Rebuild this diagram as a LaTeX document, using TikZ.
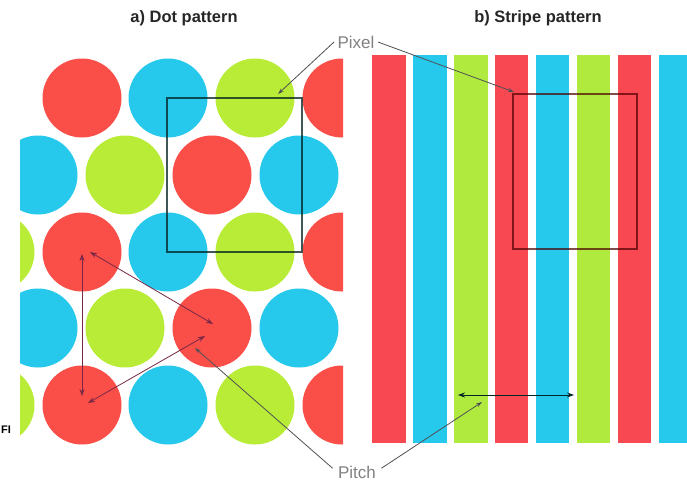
\documentclass[tikz,border=0pt]{standalone}
\usepackage{fontspec}
\setmainfont{Liberation Sans}
\usetikzlibrary{arrows.meta}
\definecolor{pred}{RGB}{250,78,72}
\definecolor{pcyan}{RGB}{38,200,236}
\definecolor{pgreen}{RGB}{184,236,54}
\definecolor{sred}{RGB}{248,72,82}
\definecolor{sgreen}{RGB}{176,234,62}
\definecolor{labgray}{RGB}{130,130,130}
\definecolor{leadgray}{RGB}{80,80,85}
\definecolor{pitchc}{RGB}{120,40,70}
\tikzset{
  dotc/.style={circle,minimum size=79pt,inner sep=0pt,draw=none},
  stripec/.style={minimum width=33.5pt,minimum height=388pt,inner sep=0pt,anchor=north west,draw=none},
  titletext/.style={font=\bfseries\fontsize{16.5}{18}\selectfont,text=black!85},
  labeltext/.style={font=\fontsize{17}{19}\selectfont,text=labgray},
  leader/.style={draw=leadgray,line width=0.8pt,-{Stealth[length=6pt,width=4pt]}},
  pitcharrow/.style={draw=pitchc,line width=0.8pt,{Stealth[length=7pt,width=5pt]}-{Stealth[length=7pt,width=5pt]}},
  pixsquare/.style={draw=black!75!teal,line width=1.1pt,opacity=0.75},
  pixsquareb/.style={draw=black!70!red,line width=1.1pt,opacity=0.7}
}
\begin{document}
\begin{tikzpicture}[x=1pt,y=-1pt]
\useasboundingbox (0,0) rectangle (687,485);
\fill[white] (0,0) rectangle (687,485);

% ---- a) dot pattern
\begin{scope}
\clip (20,0) rectangle (343,485);
% row 1
\node[dotc,fill=pred]   (r1a) at (82,98) {};
\node[dotc,fill=pcyan]  (r1b) at (168,98) {};
\node[dotc,fill=pgreen] (r1c) at (255,98) {};
\node[dotc,fill=pred]   (r1d) at (342,98) {};
% row 2
\node[dotc,fill=pcyan]  (r2a) at (38,175) {};
\node[dotc,fill=pgreen] (r2b) at (125,175) {};
\node[dotc,fill=pred]   (r2c) at (212,175) {};
\node[dotc,fill=pcyan]  (r2d) at (299,175) {};
% row 3
\node[dotc,fill=pgreen] (r3z) at (-5,252) {};
\node[dotc,fill=pred]   (r3a) at (82,252) {};
\node[dotc,fill=pcyan]  (r3b) at (168,252) {};
\node[dotc,fill=pgreen] (r3c) at (255,252) {};
\node[dotc,fill=pred]   (r3d) at (342,252) {};
% row 4
\node[dotc,fill=pcyan]  (r4a) at (38,328) {};
\node[dotc,fill=pgreen] (r4b) at (125,328) {};
\node[dotc,fill=pred]   (r4c) at (212,328) {};
\node[dotc,fill=pcyan]  (r4d) at (299,328) {};
% row 5
\node[dotc,fill=pgreen] (r5z) at (-5,405) {};
\node[dotc,fill=pred]   (r5a) at (82,405) {};
\node[dotc,fill=pcyan]  (r5b) at (168,405) {};
\node[dotc,fill=pgreen] (r5c) at (255,405) {};
\node[dotc,fill=pred]   (r5d) at (342,405) {};
\end{scope}

% pixel square (dots)
\coordinate (pxa) at (167,98);
\coordinate (pxb) at (302,252);
\draw[pixsquare] (pxa) rectangle (pxb);

% pitch triangle arrows
\coordinate (tA1) at (82,254);
\coordinate (tC1) at (82,396);
\coordinate (tA2) at (90,252);
\coordinate (tB1) at (213,324);
\coordinate (tC2) at (88,403);
\coordinate (tB2) at (205,336);
\draw[pitcharrow] (tA1) -- (tC1);
\draw[pitcharrow] (tA2) -- (tB1);
\draw[pitcharrow] (tC2) -- (tB2);

% ---- b) stripe pattern
\begin{scope}
\clip (360,0) rectangle (687,485);
\node[stripec,fill=sred]   (s1) at (372,55) {};
\node[stripec,fill=pcyan]  (s2) at (412.9,55) {};
\node[stripec,fill=sgreen] (s3) at (453.8,55) {};
\node[stripec,fill=sred]   (s4) at (494.7,55) {};
\node[stripec,fill=pcyan]  (s5) at (535.6,55) {};
\node[stripec,fill=sgreen] (s6) at (576.5,55) {};
\node[stripec,fill=sred]   (s7) at (617.4,55) {};
\node[stripec,fill=pcyan]  (s8) at (658.3,55) {};
\end{scope}

% pixel square (stripes)
\coordinate (pya) at (513,94);
\coordinate (pyb) at (637,249);
\draw[pixsquareb] (pya) rectangle (pyb);

% stripe pitch arrow
\coordinate (hl) at (458,395);
\coordinate (hr) at (574,395);
\draw[pitcharrow,draw=black!70!teal] (hl) -- (hr);

% ---- titles
\node[titletext] (ta) at (184,18) {a) Dot pattern};
\node[titletext] (tb) at (538,18) {b) Stripe pattern};

% ---- labels and leaders
\node[labeltext] (pixel) at (356,42) {Pixel};
\coordinate (pxtip1) at (278,94);
\coordinate (pxtip2) at (514,92);
\draw[leader] (pixel.west) -- (pxtip1);
\draw[leader] (pixel.east) -- (pxtip2);

\node[labeltext] (pitch) at (357,472) {Pitch};
\coordinate (pttip1) at (195,348);
\coordinate (pttip2) at (482,402);
\draw[leader] ([xshift=-2pt,yshift=-6pt]pitch.north west) -- (pttip1);
\draw[leader] ([xshift=2pt,yshift=-6pt]pitch.north east) -- (pttip2);

% page fragment
\node[font=\bfseries\fontsize{11}{12}\selectfont,anchor=west,inner sep=0pt] (frag) at (1,430) {FI};
\end{tikzpicture}
\end{document}
